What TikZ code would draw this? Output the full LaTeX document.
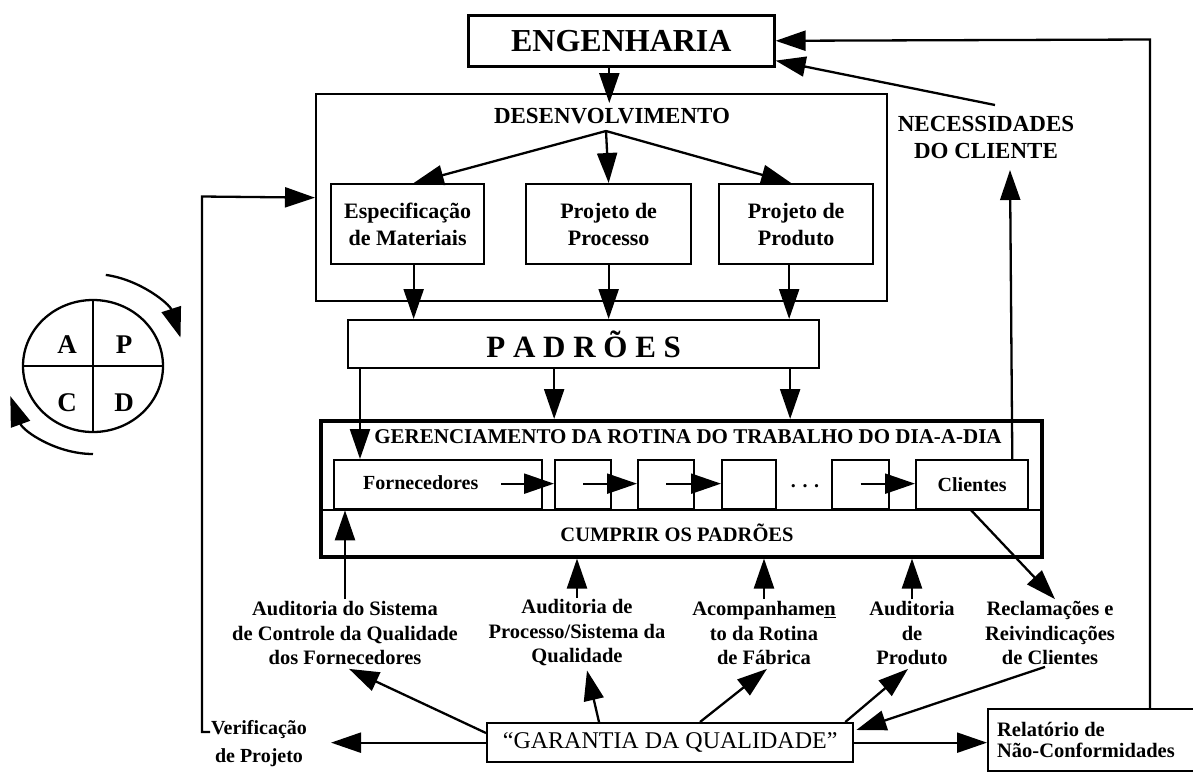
\documentclass[tikz,border=0pt]{standalone}
\usepackage{fontspec}
\setmainfont{Liberation Serif}
\usetikzlibrary{arrows.meta,calc}
\begin{document}
\begin{tikzpicture}[x=1pt,y=-1pt,line width=2.3pt,
  arr/.style={-{Triangle[length=30pt,width=20pt]}},
  blk/.style={draw,line width=2.3pt,anchor=north west,inner sep=0pt,align=center},
  boxtxt/.style={font=\bfseries\fontsize{22}{27}\selectfont,align=center},
  lab/.style={font=\bfseries\fontsize{20.5}{24.5}\selectfont,align=center,inner sep=1pt},
  bigletter/.style={font=\bfseries\fontsize{27}{27}\selectfont},
]
\useasboundingbox (0,0) rectangle (1193,772);

% --- engineering and development ---
\node[blk,line width=2.6pt,minimum width=306pt,minimum height=51pt,
      font=\bfseries\fontsize{32}{36}\selectfont] (eng) at (467,14) {ENGENHARIA};
\node[blk,minimum width=571pt,minimum height=207pt] (des) at (315,93) {};
\node[font=\bfseries\fontsize{23}{26}\selectfont] (dtitle) at (612,116) {DESENVOLVIMENTO};
\coordinate (apex) at (606,131);
\node[blk,minimum width=153pt,minimum height=80pt,boxtxt] (esp) at (330,183) {Especificação\\de Materiais};
\node[blk,minimum width=165pt,minimum height=80pt,boxtxt] (proc) at (525,183) {Projeto de\\Processo};
\node[blk,minimum width=154pt,minimum height=80pt,boxtxt] (prod) at (718,183) {Projeto de\\Produto};

\coordinate (e1) at ($(eng.south)+(-12,0)$);
\coordinate (e2) at (e1 |- des.north);
\draw[arr] (e1) -- ($(e2)+(0,10)$);
\draw[arr] (apex) -- ($(esp.north)+(6,0)$);
\draw[arr] (apex) -- (proc.north);
\draw[arr] (apex) -- ($(prod.north)+(-5,0)$);

% --- standards ---
\node[blk,minimum width=471pt,minimum height=48pt,
      font=\bfseries\fontsize{31}{34}\selectfont] (pad) at (347,319) {P A D R Õ E S};
\coordinate (d1) at ($(esp.south)+(6,0)$);
\coordinate (d3) at ($(prod.south)+(-7,0)$);
\draw[arr] (d1) -- (d1 |- pad.north);
\draw[arr] (proc.south) -- (proc.south |- pad.north);
\draw[arr] (d3) -- (d3 |- pad.north);

% --- daily routine management ---
\node[blk,line width=3.5pt,minimum width=721pt,minimum height=136pt] (ger) at (319,419) {};
\node[font=\bfseries\fontsize{21}{24}\selectfont] (gtitle) at (688,437)
  {GERENCIAMENTO DA ROTINA DO TRABALHO DO DIA-A-DIA};
\coordinate (divL) at (319,510);
\coordinate (divR) at (1040,510);
\draw (divL) -- (divR);
\node[font=\bfseries\fontsize{20.5}{24}\selectfont] (cumprir) at (677,533) {CUMPRIR OS PADRÕES};

\node[blk,minimum width=208pt,minimum height=49pt] (forn) at (333,459) {};
\node[font=\bfseries\fontsize{20}{24}\selectfont,anchor=west,inner sep=0pt] (forntxt) at (362,483) {Fornecedores};
\node[blk,minimum width=56pt,minimum height=49pt] (b2) at (554,459) {};
\node[blk,minimum width=56pt,minimum height=49pt] (b3) at (637,459) {};
\node[blk,minimum width=54pt,minimum height=49pt] (b4) at (721,459) {};
\node[font=\bfseries\fontsize{20}{24}\selectfont] (dots) at (805,486) {. . .};
\node[blk,minimum width=57pt,minimum height=49pt] (b5) at (831,459) {};
\node[blk,minimum width=112pt,minimum height=49pt,font=\bfseries\fontsize{20}{24}\selectfont] (cli) at (915,459) {Clientes};

\draw[arr] ($(forn.east)+(-42,-1)$) -- ($(b2.west)+(0,-1)$);
\draw[arr] ($(b2.center)+(0,-1)$) -- ($(b3.west)+(0,-1)$);
\draw[arr] ($(b3.center)+(0,-1)$) -- ($(b4.west)+(0,-1)$);
\draw[arr] ($(b5.center)+(0,-1)$) -- ($(cli.west)+(0,-1)$);

\coordinate (p1) at ($(pad.south west)+(13,0)$);
\coordinate (p2) at ($(pad.south)+(-29.5,0)$);
\coordinate (p3) at ($(pad.south)+(206.5,0)$);
\draw[arr] (p1) -- (p1 |- forn.north);
\draw[arr] (p2) -- (p2 |- ger.north);
\draw[arr] (p3) -- (p3 |- ger.north);

% --- customer needs ---
\node[font=\bfseries\fontsize{23}{27}\selectfont,align=center] (nec) at (986,137) {NECESSIDADES\\DO CLIENTE};
\coordinate (necout) at (995,105);
\coordinate (nectip) at (1010,170);
\draw[arr] ($(cli.north east)+(-17,0)$) -- (nectip);
\draw[arr] (necout) -- ($(eng.south east)+(0,-7)$);

% --- quality assurance ---
\node[blk,minimum width=366pt,minimum height=39pt,font=\fontsize{24}{28}\selectfont] (gar) at (486,722)
  {“GARANTIA DA QUALIDADE”};
\node[blk,minimum width=206pt,minimum height=62pt] (rel) at (987,708) {};
\node[font=\bfseries\fontsize{20.5}{21}\selectfont,align=left,anchor=west,inner sep=0pt] (reltxt) at (996,740)
  {Relatório de\\Não-Conformidades};
\node[lab,font=\bfseries\fontsize{20}{28}\selectfont] (ver) at (259,744) {Verificação\\de Projeto};

\node[lab] (a1) at (345,633) {Auditoria do Sistema\\de Controle da Qualidade\\dos Fornecedores};
\node[lab] (a2) at (577,633) {Auditoria de\\Processo/Sistema da\\Qualidade};
\node[lab] (a3) at (764,633) {Acompanhame\underline{n}\\to da Rotina\\de Fábrica};
\node[lab] (a4) at (912,633) {Auditoria\\de\\Produto};
\node[lab] (a5) at (1050,633) {Reclamações e\\Reivindicações\\de Clientes};

\draw[arr] (a1.north) -- (a1.north |- forn.south);
\draw[arr] (a2.north) -- (a2.north |- ger.south);
\draw[arr] (a3.north) -- (a3.north |- ger.south);
\draw[arr] (a4.north) -- (a4.north |- ger.south);
\draw[arr] ($(cli.south)+(-1,0)$) -- ($(a5.north)+(5,0)$);

\draw[arr] ($(gar.north west)+(0,11)$) -- ($(a1.south)+(4,2)$);
\draw[arr] ($(gar.north west)+(113,0)$) -- ($(a2.south)+(10,2)$);
\draw[arr] ($(gar.north west)+(214,0)$) -- ($(a3.south)+(3,2)$);
\draw[arr] ($(gar.north east)+(-9,0)$) -- ($(a4.south)+(-4,2)$);
\draw[arr] ($(a5.south)+(-5,0)$) -- ($(gar.north east)+(2,8)$);

\coordinate (vtip) at (331,745);
\draw[arr] (gar.west) -- (gar.west -| vtip);
\draw[arr] (gar.east) -- (gar.east -| rel.west);

% feedback loops
\coordinate (fbstart) at (210,732);
\coordinate (fbc) at (202,196.5);
\draw[arr] (fbstart) -| (fbc) -- (des.west);
\coordinate (rcorner) at (1150,39.5);
\draw[arr] (rel.north -| rcorner) -- (rcorner) -- (eng.east);

% --- PDCA cycle ---
\draw (93,366) ellipse [x radius=70, y radius=66];
\draw (93,300) -- (93,432);
\draw (23,366) -- (163,366);
\node[bigletter] (pa) at (67,345) {A};
\node[bigletter] (pp) at (124,345) {P};
\node[bigletter] (pc) at (67,403) {C};
\node[bigletter] (pd) at (124,403) {D};
\draw[arr] (93,366) ++(-82:92) arc[start angle=-82,end angle=-18,radius=92];
\draw[arr] (93,366) ++(90:88) arc[start angle=90,end angle=160,radius=88];
\end{tikzpicture}
\end{document}
